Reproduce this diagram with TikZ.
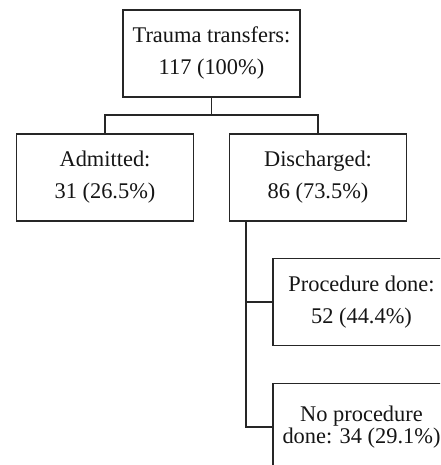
\documentclass[tikz,border=0pt]{standalone}
\usepackage{fontspec}
\setmainfont{Liberation Serif}
\usepackage{tikz}
\usetikzlibrary{positioning, calc}
\definecolor{boxline}{HTML}{262626}
\definecolor{boxtext}{HTML}{151515}
\tikzset{
  flowbox/.style={
    draw=boxline, line width=1.9pt, fill=white,
    minimum width=177pt, minimum height=87pt,
    align=center, text=boxtext,
    font=\fontsize{22.4}{32}\selectfont
  },
  link/.style={draw=boxline, line width=1.9pt}
}
\begin{document}
\begin{tikzpicture}[x=1pt, y=-1pt]
  \useasboundingbox (0,0) rectangle (440,465);
  \clip (0,0) rectangle (440,465);

  % boxes
  \node[flowbox] (total) at (211.5, 53.5) {Trauma transfers:\\117 (100\%)};
  \node[flowbox] (adm) at (105, 177.5) {Admitted:\\31 (26.5\%)};
  \node[flowbox] (dis) at (318, 177.5) {Discharged:\\86 (73.5\%)};
  \node[flowbox] (proc) at (361.5, 302) {Procedure done:\\52 (44.4\%)};
  \node[flowbox, font=\fontsize{22.4}{22}\selectfont] (noproc) at (361.5, 427)
    {No procedure\\done: 34 (29.1\%)};

  % split under the first box
  \coordinate (split) at (211.5, 115);
  \draw[link] (total.south) -- (split);
  \draw[link] (adm.north) |- (split) -| (dis.north);

  % trunk under discharged
  \coordinate (trunk) at ($(dis.south west)+(17,0)$);
  \draw[link] (trunk) |- (noproc.west);
  \draw[link] (trunk |- proc.west) -- (proc.west);
\end{tikzpicture}
\end{document}
